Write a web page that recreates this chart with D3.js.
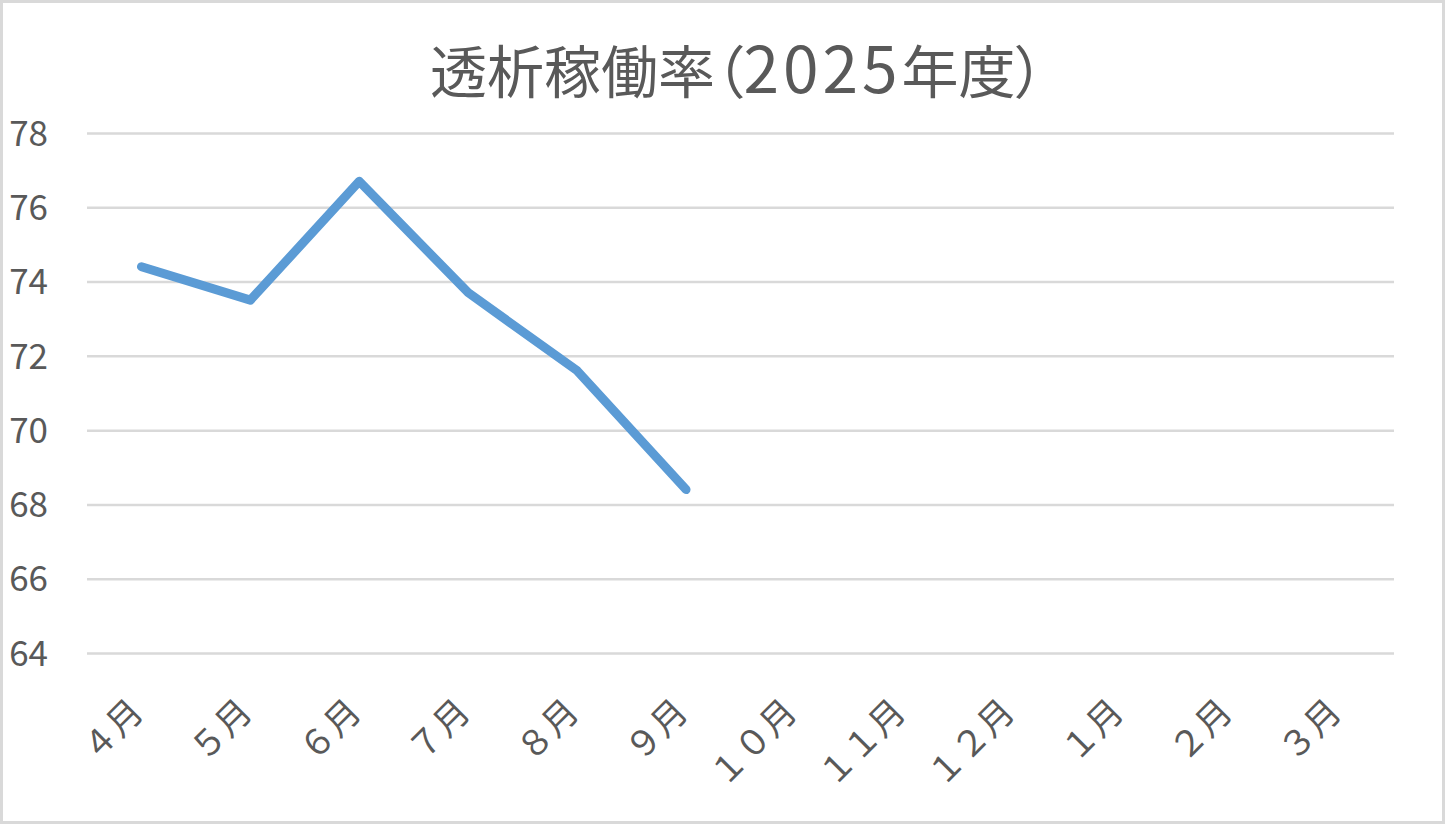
<!DOCTYPE html>
<html>
<head>
<meta charset="utf-8">
<script src="https://cdn.jsdelivr.net/npm/d3@7"></script>
<style>
  body { margin: 0; background: #fff; }
  text { font-family: "Noto Sans CJK JP", "Noto Sans", sans-serif; fill: #595959; }
</style>
</head>
<body>
<div id="viz"></div>
<script>
const width = 1445;
const height = 824;
const margin = { top: 133, right: 51, bottom: 171, left: 87 };

const months = ['４月', '５月', '６月', '７月', '８月', '９月', '１０月', '１１月', '１２月', '１月', '２月', '３月'];
const rates = [74.4, 73.5, 76.7, 73.7, 71.6, 68.4];
const yTicks = [64, 66, 68, 70, 72, 74, 76, 78];
// title split into pieces so spacing can follow the original font
const titleParts = ['透析稼働率', '（', '2025', '年度', '）'];

const innerW = width - margin.left - margin.right;
const innerH = height - margin.top - margin.bottom;

const svg = d3.select('#viz').append('svg')
  .attr('width', width)
  .attr('height', height);

svg.append('rect')
  .attr('x', 1.5).attr('y', 1.5)
  .attr('width', width - 3).attr('height', height - 3)
  .attr('fill', '#fff')
  .attr('stroke', '#d9d9d9')
  .attr('stroke-width', 3);

const chart = svg.append('g')
  .attr('transform', `translate(${margin.left}, ${margin.top})`);

const x = d3.scaleBand().range([0, innerW]).domain(months);
const y = d3.scaleLinear().range([innerH, 0]).domain([64, 78]);

// gridlines
chart.append('g')
  .call(d3.axisLeft(y).tickValues(yTicks).tickSize(-innerW).tickFormat(''))
  .call(g => g.select('.domain').remove())
  .call(g => g.selectAll('line').attr('stroke', '#d9d9d9').attr('stroke-width', 2.5));

// y labels
chart.append('g')
  .call(d3.axisLeft(y).tickValues(yTicks).tickSize(0).tickPadding(39))
  .call(g => g.select('.domain').remove())
  .call(g => g.selectAll('text')
    .attr('fill', '#595959')
    .style('font-size', '35px')
    .attr('dy', '0.35em'));

// x labels, rotated
chart.append('g')
  .selectAll('text')
  .data(months)
  .enter()
  .append('text')
  .attr('transform', d => `translate(${x(d) + x.bandwidth() / 2 + 4}, ${innerH + 61}) rotate(-45)`)
  .attr('text-anchor', 'end')
  .style('font-size', '35px')
  .text(d => d);

// line
const line = d3.line()
  .x((d, i) => x(months[i]) + x.bandwidth() / 2)
  .y(d => y(d));

chart.append('path')
  .datum(rates)
  .attr('fill', 'none')
  .attr('stroke', '#5b9bd5')
  .attr('stroke-width', 9)
  .attr('stroke-linecap', 'round')
  .attr('stroke-linejoin', 'round')
  .attr('d', line);

const title = svg.append('text')
  .attr('x', 737)
  .attr('y', 93)
  .attr('text-anchor', 'middle')
  .style('font-size', '57px')
  .style('font-feature-settings', '"palt"');

title.append('tspan').text(titleParts[0]);
title.append('tspan').text(titleParts[1]);
title.append('tspan').style('font-size', '64px').style('letter-spacing', '4px').text(titleParts[2]);
title.append('tspan').text(titleParts[3]);
title.append('tspan').text(titleParts[4]);
</script>
</body>
</html>
